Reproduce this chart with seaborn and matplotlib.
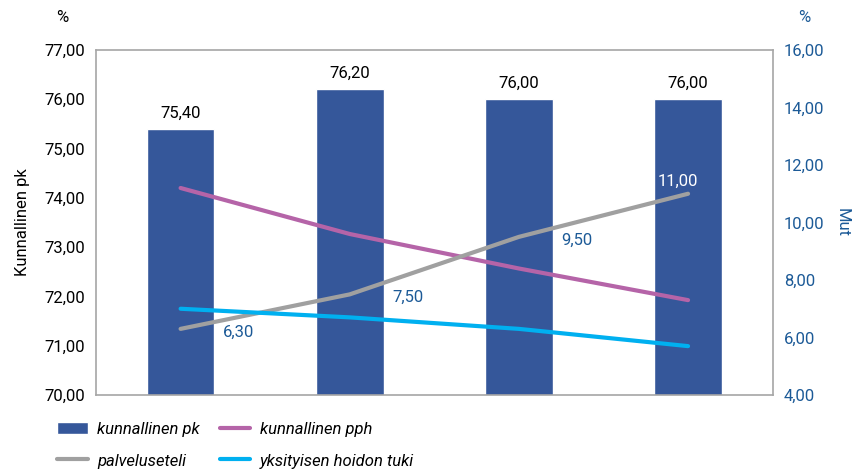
import numpy as np
import pandas as pd
import seaborn as sns
import matplotlib.pyplot as plt
from matplotlib.ticker import FuncFormatter, MultipleLocator
from matplotlib.patches import Patch
from matplotlib.lines import Line2D

# Data
years = ["2015", "2016", "2017", "2018"]
kunnallinen_pk = [75.40, 76.20, 76.00, 76.00]
kunnallinen_pph = [11.2, 9.6, 8.4, 7.3]
palveluseteli = [6.30, 7.50, 9.50, 11.00]
yksityisen_tuki = [7.0, 6.7, 6.3, 5.7]

bar_color = "#35579a"
line_colors = {
    "kunnallinen pph": "#b564a8",
    "palveluseteli": "#a0a0a0",
    "yksityisen hoidon tuki": "#00b0f0",
}
blue_text = "#1c5a97"


def fi_fmt(v, pos=None):
    return f"{v:.2f}".replace(".", ",")


sns.set_style("white")
plt.rcParams["font.family"] = ["Roboto", "DejaVu Sans"]
plt.rcParams["text.color"] = "black"
plt.rcParams["axes.labelcolor"] = "black"
plt.rcParams["ytick.color"] = "black"

fig = plt.figure(figsize=(8.58, 4.73), dpi=100)
ax = fig.add_axes([0.1119, 0.1649, 0.7886, 0.7294])

# Bars on the left axis
bar_df = pd.DataFrame({"vuosi": years, "arvo": kunnallinen_pk})
sns.barplot(data=bar_df, x="vuosi", y="arvo", color=bar_color,
            saturation=1, width=0.40, ax=ax)
ax.set_ylim(70, 77)
ax.set_xlim(-0.5, len(years) - 0.5)
ax.yaxis.set_major_locator(MultipleLocator(1))
ax.yaxis.set_major_formatter(FuncFormatter(fi_fmt))
ax.set_xticks([])
ax.set_xlabel("")
ax.set_ylabel("Kunnallinen pk", fontsize=12, labelpad=10)
ax.tick_params(axis="y", length=0, labelsize=12, pad=8)
for s in ax.spines.values():
    s.set_color("#a6a6a6")
    s.set_linewidth(1.2)
ax.bar_label(ax.containers[0], labels=[fi_fmt(v) for v in kunnallinen_pk],
             padding=6, fontsize=12, color="black")

# Lines on the right axis
ax2 = ax.twinx()
line_df = pd.DataFrame({
    "x": np.tile(np.arange(len(years)), 3),
    "arvo": kunnallinen_pph + palveluseteli + yksityisen_tuki,
    "sarja": np.repeat(list(line_colors.keys()), len(years)),
})
sns.lineplot(data=line_df, x="x", y="arvo", hue="sarja", palette=line_colors,
             linewidth=3, legend=False, ax=ax2, solid_capstyle="round")
ax2.set_ylim(4, 16)
ax2.set_xlim(-0.5, len(years) - 0.5)
ax2.yaxis.set_major_locator(MultipleLocator(2))
ax2.yaxis.set_major_formatter(FuncFormatter(fi_fmt))
ax2.tick_params(axis="y", length=0, labelsize=12, pad=8, labelcolor=blue_text)
ax2.set_ylabel("Mut", fontsize=12, color=blue_text, rotation=-90, labelpad=18)
ax2.set_xlabel("")
for s in ax2.spines.values():
    s.set_visible(False)

# Labels for palveluseteli
for i, v in enumerate(palveluseteli):
    if i < len(palveluseteli) - 1:
        ax2.annotate(fi_fmt(v), (i, v), xytext=(58, -3), textcoords="offset pixels",
                     ha="center", va="center", fontsize=12, color=blue_text)
    else:
        ax2.annotate(fi_fmt(v), (i, v), xytext=(-10, 12), textcoords="offset pixels",
                     ha="center", va="center", fontsize=12, color="white")

# Percent signs above axes
fig.text(62 / 858, 1 - 18 / 473, "%", ha="center", va="center", fontsize=12)
fig.text(804 / 858, 1 - 18 / 473, "%", ha="center", va="center", fontsize=12,
         color=blue_text)

# Legend
handles = [
    Patch(facecolor=bar_color, label="kunnallinen pk"),
    Line2D([], [], color=line_colors["palveluseteli"], lw=3,
           solid_capstyle="round", label="palveluseteli"),
    Line2D([], [], color=line_colors["kunnallinen pph"], lw=3,
           solid_capstyle="round", label="kunnallinen pph"),
    Line2D([], [], color=line_colors["yksityisen hoidon tuki"], lw=3,
           solid_capstyle="round", label="yksityisen hoidon tuki"),
]
fig.legend(handles=handles, ncol=2, loc="center left",
           bbox_to_anchor=(57 / 858, 1 - 445 / 473), frameon=False,
           prop={"style": "italic", "size": 12}, handlelength=1.85,
           handleheight=0.8, handletextpad=0.55, columnspacing=1.2,
           labelspacing=1.0, borderaxespad=0, borderpad=0)

fig.savefig("out.png", dpi=100)
